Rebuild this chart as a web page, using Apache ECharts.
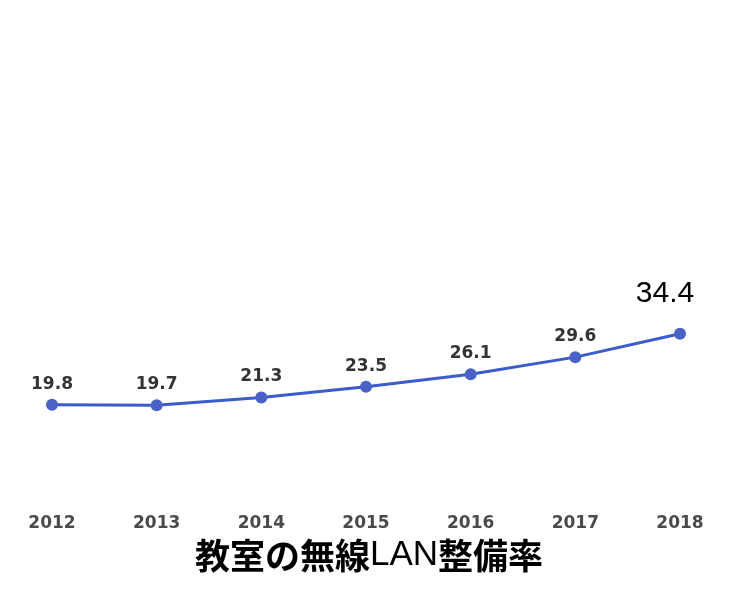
<!DOCTYPE html>
<html lang="ja">
<head>
<meta charset="UTF-8" />
<title>教室の無線LAN整備率</title>
<script src="https://cdn.jsdelivr.net/npm/echarts@6/dist/echarts.min.js"></script>
<style type="text/css">
html,body{margin:0;padding:0;background:#fff;}
#main{width:738px;height:590px;}
</style>
</head>
<body>
<div id="main"></div>
<script type="text/javascript">
var years = ['2012','2013','2014','2015','2016','2017','2018'];
var rates = [19.8, 19.7, 21.3, 23.5, 26.1, 29.6, 34.4];
var chartTitle = '教室の無線LAN整備率';

// 最後の点だけラベルを大きく
var seriesData = [];
for (var i = 0; i < rates.length; i++) {
    var item = { value: rates[i] };
    if (i == rates.length - 1) {
        item.label = {
            fontSize: 30,
            fontWeight: 'normal',
            color: '#000',
            fontFamily: 'Liberation Sans',
            letterSpacing: 0,
            distance: 19,
            offset: [-15, 0]
        };
    }
    seriesData.push(item);
}

var myChart = echarts.init(document.getElementById('main'));
myChart.setOption({
    backgroundColor: '#fff',
    animation: false,
    title: {
        text: '{k|教室の無線}{l|LAN}{k|整備率}',
        left: 'center',
        top: 533,
        textStyle: {
            rich: {
                k: { fontSize: 35, fontWeight: 'bold', color: '#000', fontFamily: 'Noto Sans CJK JP' },
                l: { fontSize: 35, fontWeight: 'normal', color: '#000', fontFamily: 'Liberation Sans' }
            }
        }
    },
    grid: {
        left: 52,
        right: 58,
        top: 15,
        bottom: 89
    },
    xAxis: {
        type: 'category',
        data: years,
        boundaryGap: false,
        axisLine: { show: false },
        axisTick: { show: false },
        axisLabel: {
            margin: 14,
            fontSize: 17,
            fontWeight: 'bold',
            letterSpacing: 1.5,
            color: '#4a4a4a',
            fontFamily: 'DejaVu Sans'
        }
    },
    yAxis: {
        type: 'value',
        min: 0,
        max: 100,
        show: false,
        splitLine: { show: false }
    },
    series: [
        {
            type: 'line',
            data: seriesData,
            symbol: 'circle',
            symbolSize: 12,
            lineStyle: { width: 3, color: '#3a5ccc' },
            itemStyle: { color: '#4a62c6' },
            label: {
                show: true,
                position: 'top',
                distance: 6,
                fontSize: 17,
                fontWeight: 'bold',
                letterSpacing: 1,
                color: '#333',
                fontFamily: 'DejaVu Sans'
            }
        }
    ]
});
</script>
</body>
</html>
